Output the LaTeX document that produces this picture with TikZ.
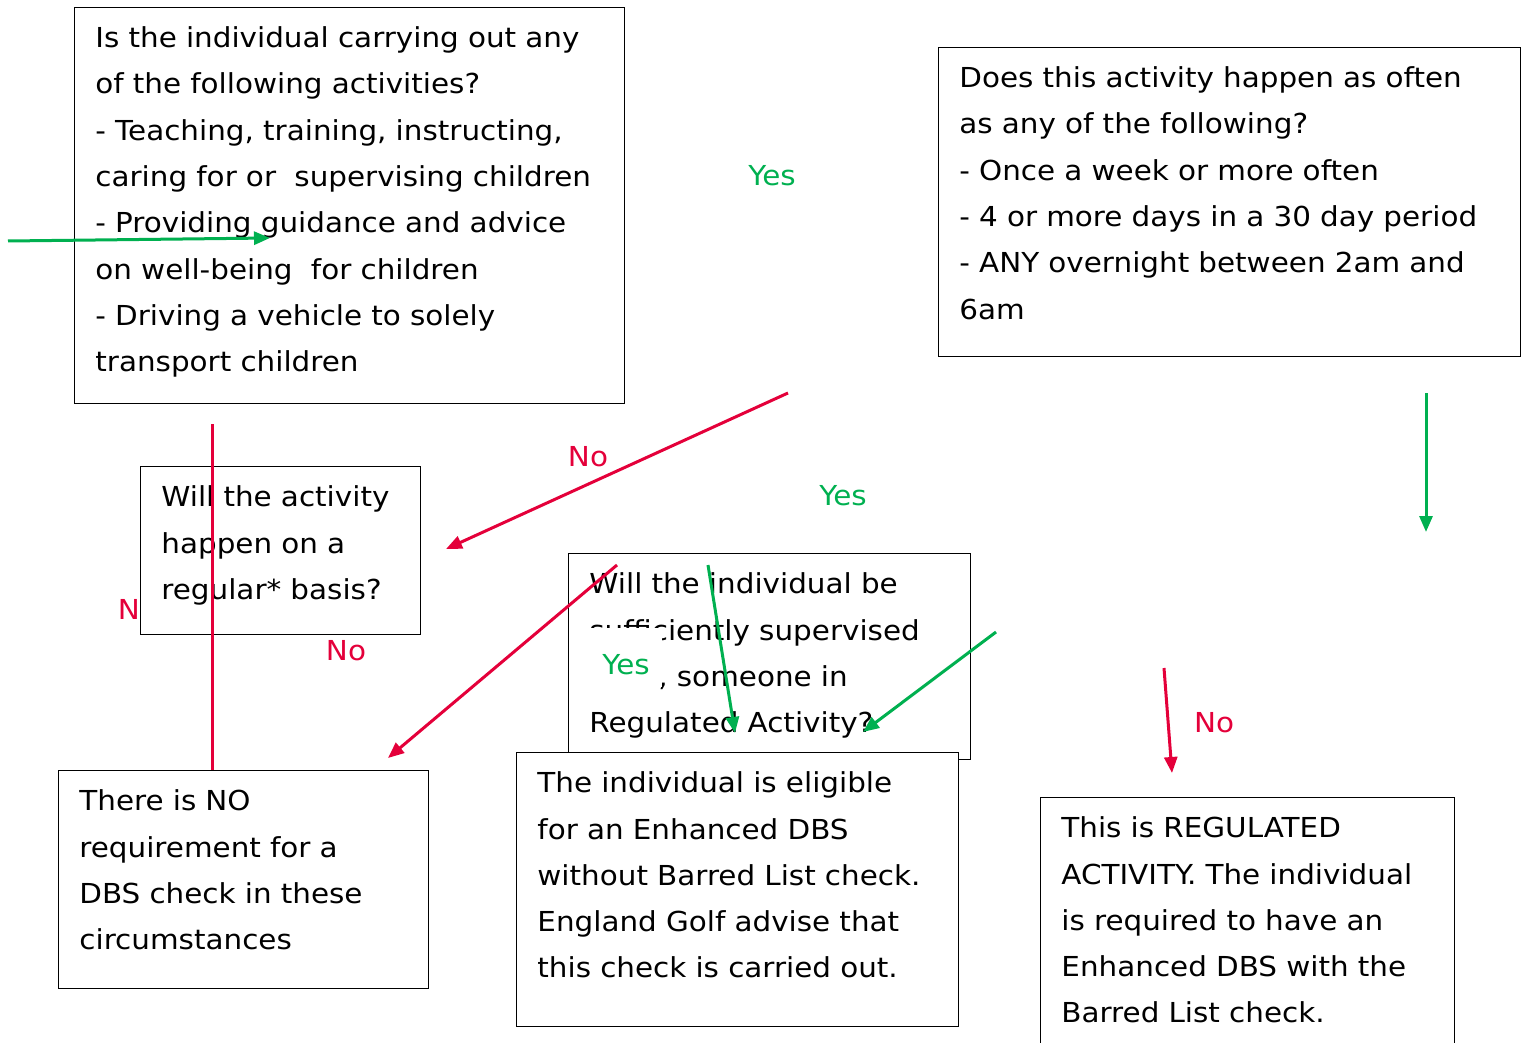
\documentclass[tikz,border=0pt]{standalone}
\usepackage{fontspec}
\setmainfont[FakeStretch=1.07]{DejaVu Sans}
\usetikzlibrary{arrows.meta}
\definecolor{yesgreen}{RGB}{0,176,80}
\definecolor{nored}{RGB}{228,0,58}
\begin{document}
\begin{tikzpicture}[x=1pt,y=-1pt]
\tikzstyle{question box}=[draw,thick,fill=white,anchor=north west,align=left,inner xsep=21pt,inner ysep=19.3pt,text height=21pt,font=\fontsize{27.5}{46.3}\selectfont]
\tikzset{
	yes label/.style={text=yesgreen,font=\fontsize{27.5}{30}\selectfont,inner sep=0pt},
	no label/.style={text=nored,font=\fontsize{27.5}{30}\selectfont,inner sep=0pt},
	yes arrow/.style={draw=yesgreen,fill=yesgreen,line width=3pt,-{Triangle[length=16pt,width=13pt]}},
	no arrow/.style={draw=nored,fill=nored,line width=3pt,-{Triangle[length=16pt,width=13pt]}},
	no line/.style={draw=nored,line width=3pt}
}
\useasboundingbox (0,0) rectangle (1527,1043);
\node[question box,text width=508pt,text depth=336.4pt] (activities) at (74,7) {Is the individual carrying out any\\of the following activities?\\- Teaching, training, instructing,\\caring for or\ \ supervising children\\- Providing guidance and advice\\on well-being\ \ for children\\- Driving a vehicle to solely\\transport children};
\node[question box,text width=540pt,text depth=249.4pt] (often) at (938,47) {Does this activity happen as often\\as any of the following?\\- Once a week or more often\\- 4 or more days in a 30 day period\\- ANY overnight between 2am and\\6am};
\node[yes label] (yes often) at (772,176) {Yes};
\node[yes label] (yes supervised) at (843,496) {Yes};
\node[no label] (no regular) at (588,457) {No};
\node[no label] (no activities) at (138,610) {No};
\node[no label] (no supervised) at (346,651) {No};
\node[no label] (no often) at (1214,723) {No};
\node[question box,text width=238pt,text depth=108.4pt] (regular) at (140,466) {Will the activity\\happen on a\\regular* basis?};
\node[question box,text width=360pt,text depth=146.4pt] (supervised) at (568,553) {Will the individual be\\sufficiently supervised\\\hspace*{69pt}, someone in\\Regulated Activity?};
\node[yes label,fill=white,inner xsep=12pt,text height=46pt,text depth=13pt,anchor=base] (yes regular) at (626,674) {Yes};
\node[question box,text width=400pt,text depth=214.4pt] (eligible) at (516,752) {The individual is eligible\\for an Enhanced DBS\\without Barred List check.\\England Golf advise that\\this check is carried out.};
\node[question box,text width=328pt,text depth=158.4pt] (no check) at (58,770) {There is NO\\requirement for a\\DBS check in these\\circumstances};
\node[question box,text width=372pt,text depth=203.4pt] (regulated) at (1040,797) {This is REGULATED\\ACTIVITY. The individual\\is required to have an\\Enhanced DBS with the\\Barred List check.};
\coordinate (start) at (8,241);
\coordinate (start end) at (270,238);
\coordinate (a1) at (212,424);
\coordinate (a2) at (212,770);
\coordinate (b1) at (788,393);
\coordinate (b2) at (446,549);
\coordinate (c1) at (617,565);
\coordinate (c2) at (388,758);
\coordinate (d1) at (708,565);
\coordinate (d2) at (735,733);
\coordinate (e1) at (996,632);
\coordinate (e2) at (863,732);
\coordinate (f1) at (1426,393);
\coordinate (f2) at (1426,532);
\coordinate (g1) at (1164,668);
\coordinate (g2) at (1172,773);
\draw[yes arrow] (start) -- (start end);
\draw[no line] (a1) -- (a2);
\draw[no arrow] (b1) -- (b2);
\draw[no arrow] (c1) -- (c2);
\draw[yes arrow] (d1) -- (d2);
\draw[yes arrow] (e1) -- (e2);
\draw[yes arrow] (f1) -- (f2);
\draw[no arrow] (g1) -- (g2);
\end{tikzpicture}
\end{document}
